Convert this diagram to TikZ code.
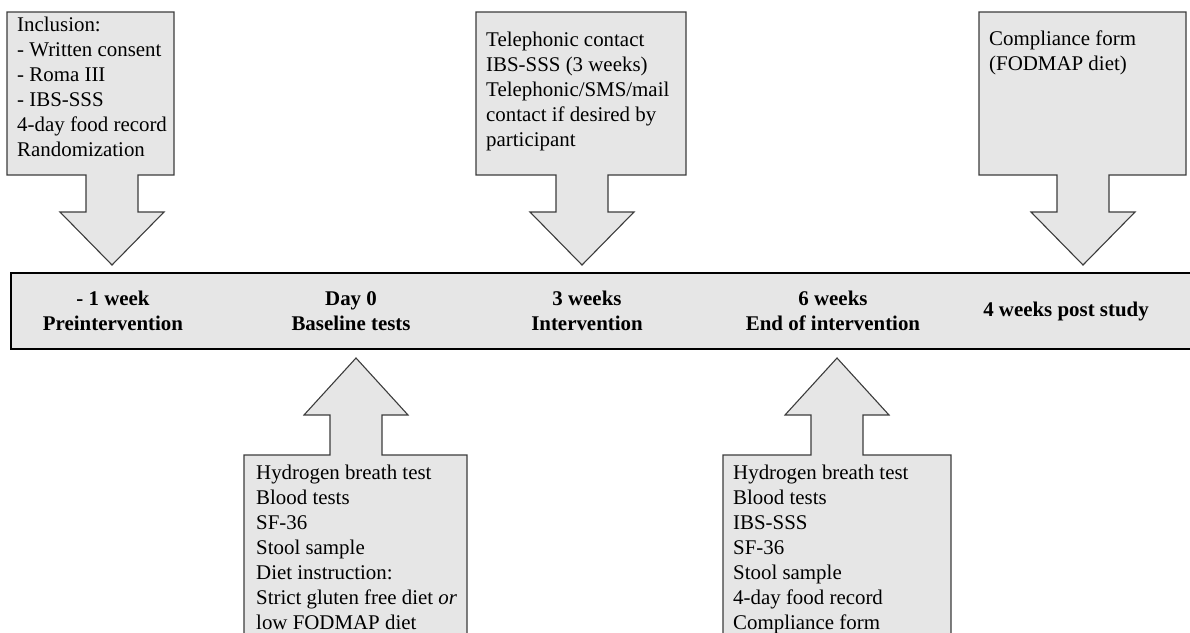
\documentclass[tikz,border=0pt]{standalone}
\usepackage{fontspec}
\setmainfont{Liberation Serif}
\definecolor{boxfill}{HTML}{E6E6E6}
\definecolor{boxedge}{HTML}{3C3C3C}
\def\shaft{26}
\def\head{52}
\tikzset{
  callout/.style={draw=boxedge,fill=boxfill,line width=1.1pt,line join=miter},
  timeline/.style={draw=black,fill=boxfill,line width=1.8pt},
  note/.style={anchor=north west,inner sep=0pt,align=left,font=\fontsize{20.9}{25}\selectfont},
  stage/.style={inner sep=0pt,align=center,font=\fontsize{20.9}{25}\selectfont\bfseries}
}
\begin{document}
\begin{tikzpicture}[x=1pt,y=-1pt]
\useasboundingbox (0,0) rectangle (1190,632);
\clip (0,0) rectangle (1190,632);
\foreach \l/\r/\c in {7/174/112,476/686/582,979/1186/1083} {
  \draw[callout] (\l,12) -- (\r,12) -- (\r,175) -- (\c+\shaft,175) -- (\c+\shaft,212)
    -- (\c+\head,212) -- (\c,265) -- (\c-\head,212) -- (\c-\shaft,212) -- (\c-\shaft,175)
    -- (\l,175) -- cycle;
}
\foreach \l/\r/\c in {244/467/356,723/951/837} {
  \draw[callout] (\l,660) -- (\l,455) -- (\c-\shaft,455) -- (\c-\shaft,415) -- (\c-\head,415)
    -- (\c,358) -- (\c+\head,415) -- (\c+\shaft,415) -- (\c+\shaft,455) -- (\r,455)
    -- (\r,660);
}
\draw[timeline] (11,273) rectangle (1210,349);
\node[note] (incl) at (17,17) {Inclusion:\\- Written consent\\- Roma III\\- IBS-SSS\\4-day food record\\Randomization};
\node[note] (phone) at (486,32) {Telephonic contact\\IBS-SSS (3 weeks)\\Telephonic/SMS/mail\\contact if desired by\\participant};
\node[note] (compl) at (989,31) {Compliance form\\(FODMAP diet)};
\node[stage] (pre) at (113,311) {- 1 week\\Preintervention};
\node[stage] (day0) at (351,311) {Day 0\\Baseline tests};
\node[stage] (wk3) at (587,311) {3 weeks\\Intervention};
\node[stage] (wk6) at (833,311) {6 weeks\\End of intervention};
\node[stage] (post) at (1066,311) {4 weeks post study};
\node[note] (base) at (256,465) {Hydrogen breath test\\Blood tests\\SF-36\\Stool sample\\Diet instruction:\\Strict gluten free diet \textit{or}\\low FODMAP diet};
\node[note] (final) at (733,465) {Hydrogen breath test\\Blood tests\\IBS-SSS\\SF-36\\Stool sample\\4-day food record\\Compliance form};
\end{tikzpicture}
\end{document}
